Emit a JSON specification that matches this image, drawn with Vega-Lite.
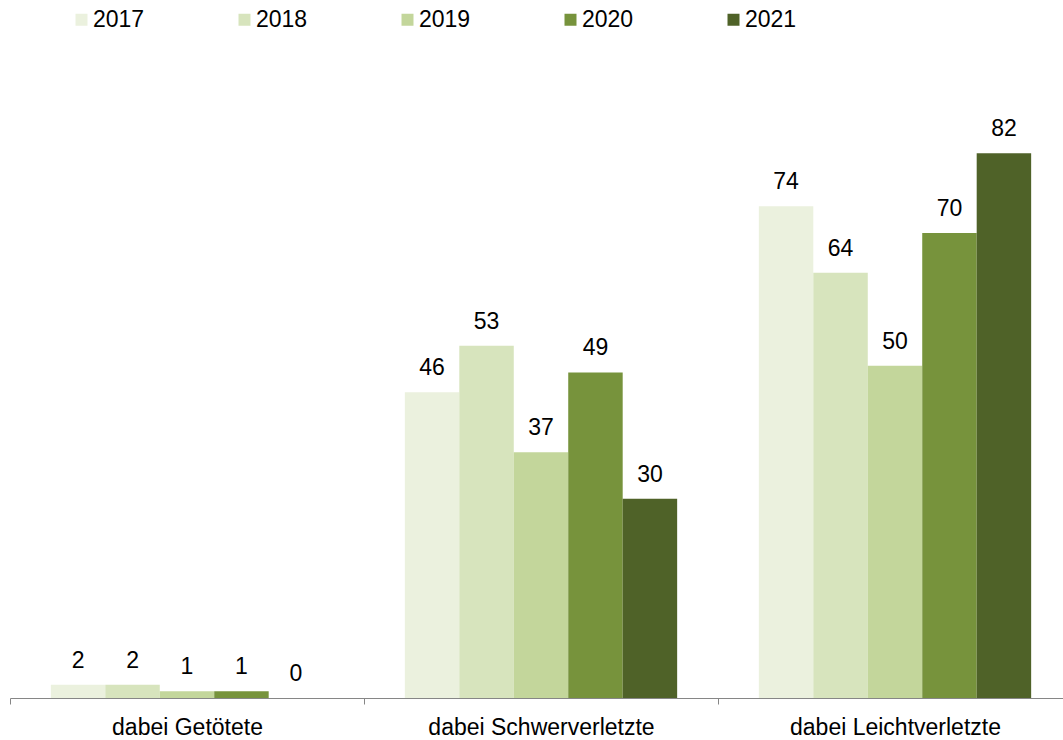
{
  "$schema": "https://vega.github.io/schema/vega-lite/v6.json",
  "width": 1053,
  "height": 598,
  "autosize": "none",
  "padding": {"left": 10, "top": 100, "right": 0, "bottom": 42},
  "background": "white",
  "config": {"view": {"stroke": null}, "font": "Liberation Sans"},
  "data": {
    "values": [
      {"Kategorie": "dabei Getötete", "Jahr": "2017", "Wert": 2},
      {"Kategorie": "dabei Getötete", "Jahr": "2018", "Wert": 2},
      {"Kategorie": "dabei Getötete", "Jahr": "2019", "Wert": 1},
      {"Kategorie": "dabei Getötete", "Jahr": "2020", "Wert": 1},
      {"Kategorie": "dabei Getötete", "Jahr": "2021", "Wert": 0},
      {"Kategorie": "dabei Schwerverletzte", "Jahr": "2017", "Wert": 46},
      {"Kategorie": "dabei Schwerverletzte", "Jahr": "2018", "Wert": 53},
      {"Kategorie": "dabei Schwerverletzte", "Jahr": "2019", "Wert": 37},
      {"Kategorie": "dabei Schwerverletzte", "Jahr": "2020", "Wert": 49},
      {"Kategorie": "dabei Schwerverletzte", "Jahr": "2021", "Wert": 30},
      {"Kategorie": "dabei Leichtverletzte", "Jahr": "2017", "Wert": 74},
      {"Kategorie": "dabei Leichtverletzte", "Jahr": "2018", "Wert": 64},
      {"Kategorie": "dabei Leichtverletzte", "Jahr": "2019", "Wert": 50},
      {"Kategorie": "dabei Leichtverletzte", "Jahr": "2020", "Wert": 70},
      {"Kategorie": "dabei Leichtverletzte", "Jahr": "2021", "Wert": 82}
    ]
  },
  "encoding": {
    "x": {
      "field": "Kategorie",
      "type": "nominal",
      "sort": ["dabei Getötete", "dabei Schwerverletzte", "dabei Leichtverletzte"],
      "scale": {"range": [0, 1062], "paddingInner": 0, "paddingOuter": 0},
      "axis": {
        "title": null,
        "labelAngle": 0,
        "labelFontSize": 23,
        "labelColor": "#000000",
        "labelPadding": 12,
        "labelLimit": 0,
        "domainColor": "#868686",
        "tickColor": "#868686",
        "tickSize": 6,
        "tickBand": "extent",
        "grid": false
      }
    },
    "xOffset": {
      "field": "Jahr",
      "type": "nominal",
      "scale": {"paddingInner": 0, "paddingOuter": 0.75}
    },
    "y": {
      "field": "Wert",
      "type": "quantitative",
      "scale": {"domain": [0, 90], "nice": false},
      "axis": null
    }
  },
  "layer": [
    {
      "mark": {"type": "bar"},
      "encoding": {
        "color": {
          "field": "Jahr",
          "type": "nominal",
          "scale": {
            "domain": ["2017", "2018", "2019", "2020", "2021"],
            "range": ["#EBF1DE", "#D7E4BD", "#C3D69B", "#77933C", "#4F6228"]
          },
          "legend": {
            "title": null,
            "orient": "none",
            "direction": "horizontal",
            "legendX": 60,
            "legendY": -92,
            "symbolType": "square",
            "symbolSize": 144,
            "symbolStrokeWidth": 0,
            "labelFontSize": 23,
            "labelColor": "#000000",
            "labelOffset": 0,
            "columnPadding": 88,
            "padding": 0
          }
        }
      }
    },
    {
      "mark": {"type": "text", "dy": -17, "fontSize": 23, "color": "#000000", "baseline": "alphabetic"},
      "encoding": {"text": {"field": "Wert", "type": "quantitative"}}
    }
  ]
}
